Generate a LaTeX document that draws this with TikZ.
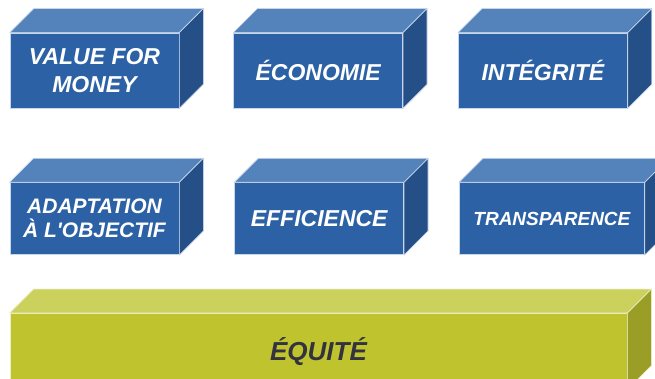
\documentclass[tikz,border=0pt]{standalone}
\usepackage{fontspec}
\setmainfont{Liberation Sans}[Ligatures=TeXOff]
\usetikzlibrary{positioning,calc}
\definecolor{boxblue}{RGB}{44,98,165}
\definecolor{topblue}{RGB}{84,130,186}
\definecolor{sideblue}{RGB}{36,79,135}
\definecolor{edgeblue}{RGB}{200,214,234}
\definecolor{boxgreen}{RGB}{190,195,46}
\definecolor{topgreen}{RGB}{204,209,94}
\definecolor{sidegreen}{RGB}{154,158,38}
\definecolor{edgegreen}{RGB}{236,238,200}
\definecolor{textdark}{RGB}{51,51,64}

\begin{document}
\begin{tikzpicture}[x=1pt,y=1pt]
\clip (0,0) rectangle (655,379);

\tikzstyle{basenode}=[align=center, inner sep=0pt, line width=0.7pt, font=\bfseries\itshape\fontsize{23}{28}\selectfont];
\tikzstyle{pillar}=[basenode, draw=edgeblue, fill=boxblue, text=white, minimum width=169pt, minimum height=75pt, node distance=54pt];
\tikzstyle{pillartop}=[fill=topblue, draw=edgeblue, line width=0.7pt, line join=round];
\tikzstyle{pillarside}=[fill=sideblue, draw=edgeblue, line width=0.7pt, line join=round];
\tikzstyle{base}=[basenode, draw=edgegreen, fill=boxgreen, text=textdark, minimum width=617pt, minimum height=76pt, font=\bfseries\itshape\fontsize{26}{30}\selectfont];
\tikzstyle{basetop}=[fill=topgreen, draw=edgegreen, line width=0.7pt, line join=round];
\tikzstyle{baseside}=[fill=sidegreen, draw=edgegreen, line width=0.7pt, line join=round];

% first row
\node[pillar] (vfm) at (94.5,308.5) {VALUE FOR\\MONEY};
\node[pillar, right=54pt of vfm] (eco) {ÉCONOMIE};
\node[pillar, right=55pt of eco] (int) {INTÉGRITÉ};

% second row
\node[pillar, below=74pt of vfm, minimum height=72pt, font=\bfseries\itshape\fontsize{21}{24}\selectfont] (ada) {ADAPTATION\\À L'OBJECTIF};
\node[pillar, right=55pt of ada, minimum height=72pt] (eff) {EFFICIENCE};
\node[pillar, right=55pt of eff, minimum height=72pt, minimum width=185pt, font=\bfseries\itshape\fontsize{19}{22}\selectfont] (tra) {TRANSPARENCE};

\foreach \n in {vfm,eco,int,ada,eff,tra}{
  \filldraw[pillartop] (\n.north west) -- ++(24,24) -- ($(\n.north east)+(24,24)$) -- (\n.north east) -- cycle;
  \filldraw[pillarside] (\n.north east) -- ++(24,24) -- ($(\n.south east)+(24,24)$) -- (\n.south east) -- cycle;
}

% base
\node[base, below=58pt of ada.south west, anchor=north west] (equ) {ÉQUITÉ};
\filldraw[basetop] (equ.north west) -- ++(24,24) -- ($(equ.north east)+(24,24)$) -- (equ.north east) -- cycle;
\filldraw[baseside] (equ.north east) -- ++(24,24) -- ($(equ.south east)+(24,24)$) -- (equ.south east) -- cycle;

\end{tikzpicture}
\end{document}
